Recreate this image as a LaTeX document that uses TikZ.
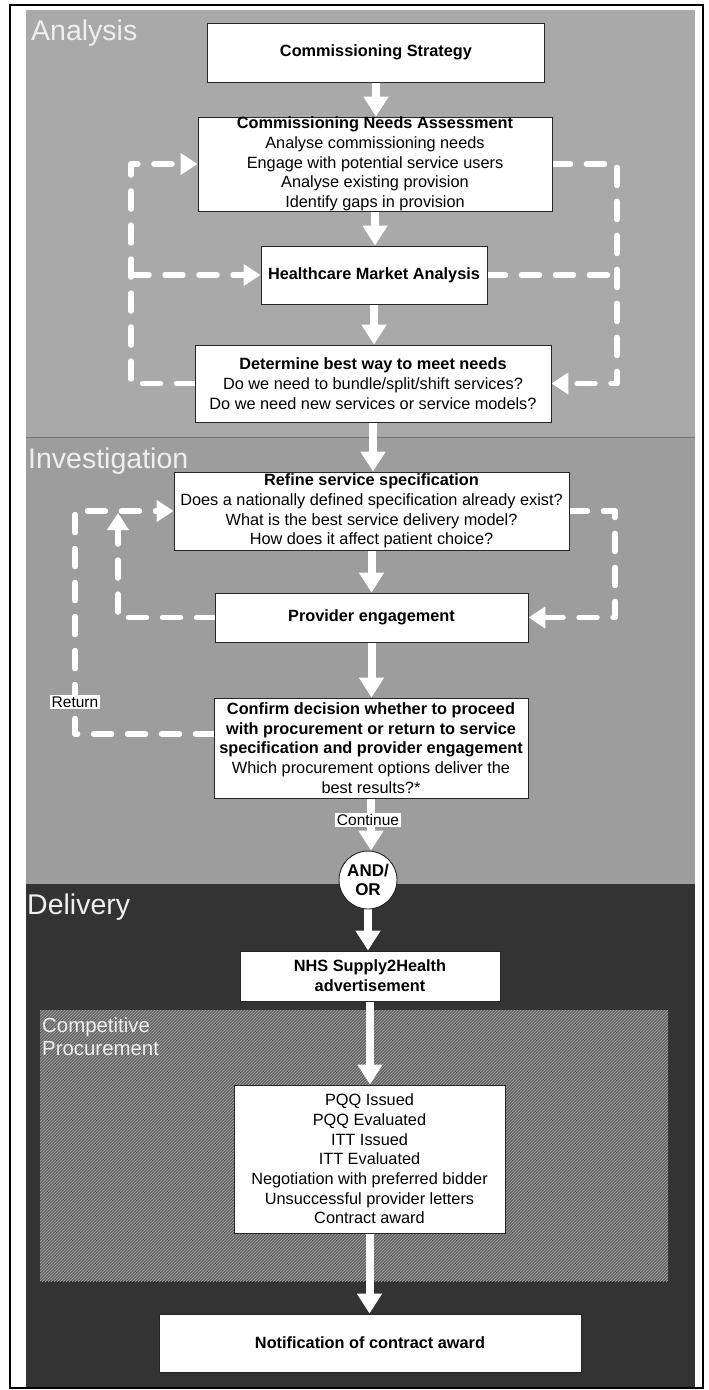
\documentclass[tikz,border=0pt]{standalone}
\usepackage{fontspec}
\setmainfont{Liberation Sans}
\usetikzlibrary{arrows.meta,patterns}
\pgfdeclarelayer{bg}
\pgfdeclarelayer{mid}
\pgfsetlayers{bg,mid,main}
\definecolor{anal}{HTML}{A9A9A9}
\definecolor{inv}{HTML}{9D9D9D}
\definecolor{del}{HTML}{333333}
\definecolor{cpf}{HTML}{656565}
\definecolor{cpl}{HTML}{A4A4A4}
\definecolor{lbl}{HTML}{EFEFEF}
\newcommand{\dgbody}{\fontsize{16.3}{19.7}\selectfont}
\begin{document}
\begin{tikzpicture}[x=1pt,y=-1pt,
  box/.style={draw=black!85, line width=0.9pt, fill=white, inner sep=0pt, align=center, font=\dgbody, text=black},
  flow/.style={draw=white, line width=8pt, -{Triangle[length=20pt,width=24pt]}},
  loopline/.style={draw=white, line width=5.5pt, dash pattern=on 18pt off 16pt, line cap=round, line join=round},
  looparrow/.style={loopline, -{Triangle[length=17pt,width=21pt]}},
  panellabel/.style={anchor=base west, inner sep=0pt, text=lbl, font=\fontsize{28.5}{30}\selectfont},
  tag/.style={fill=white, inner sep=1.5pt, text=black, font=\fontsize{15.5}{17}\selectfont}
]
\path[use as bounding box] (0,0) rectangle (709,1390);

% boxes
\node[box, minimum width=337pt, minimum height=59pt] (cs) at (376,52.5) {\textbf{Commissioning Strategy}};
\node[box, minimum width=354pt, minimum height=94pt] (cna) at (375,164) {\textbf{Commissioning Needs Assessment}\\Analyse commissioning needs\\Engage with potential service users\\Analyse existing provision\\Identify gaps in provision};
\node[box, minimum width=226pt, minimum height=58pt] (hma) at (374,275) {\textbf{Healthcare Market Analysis}};
\node[box, minimum width=356pt, minimum height=77pt] (dbw) at (373,383.5) {\textbf{Determine best way to meet needs}\\Do we need to bundle/split/shift services?\\Do we need new services or service models?};
\node[box, minimum width=395pt, minimum height=78pt] (rss) at (371.5,511) {\textbf{Refine service specification}\\Does a nationally defined specification already exist?\\What is the best service delivery model?\\How does it affect patient choice?};
\node[box, minimum width=313pt, minimum height=49pt] (pe) at (371.5,617.5) {\textbf{Provider engagement}};
\node[box, minimum width=314pt, minimum height=100pt] (conf) at (371,748) {\textbf{Confirm decision whether to proceed}\\\textbf{with procurement or return to service}\\\textbf{specification and provider engagement}\\Which procurement options deliver the\\best results?*};
\node[box, circle, minimum size=58pt, font=\fontsize{17}{19}\selectfont\bfseries] (andor) at (368,880) {AND/\\OR};
\node[box, minimum width=260pt, minimum height=50pt] (nhs) at (370,976) {\textbf{NHS Supply2Health}\\\textbf{advertisement}};
\node[box, minimum width=271pt, minimum height=148pt] (pqq) at (369.5,1159) {PQQ Issued\\PQQ Evaluated\\ITT Issued\\ITT Evaluated\\Negotiation with preferred bidder\\Unsuccessful provider letters\\Contract award};
\node[box, minimum width=422pt, minimum height=58pt] (note) at (370,1343) {\textbf{Notification of contract award}};

% labels on connectors
\node[tag] (cont) at (368,820) {Continue};
\node[tag] (ret) at (75,702) {Return};

% loop coordinates
\coordinate (aL) at (131,0);
\coordinate (aR) at (617,0);
\coordinate (iL) at (75,0);
\coordinate (iM) at (118,0);
\coordinate (iR) at (615,0);
\coordinate (iMt) at (118,513);
\coordinate (cw) at ([yshift=14pt]conf.west);

\begin{pgfonlayer}{bg}
\fill[anal] (26,10) rectangle (695,437);
\fill[inv] (26,437) rectangle (695,884);
\fill[del] (26,884) rectangle (695,1388);
\draw[black!55, line width=0.8pt] (26,437) -- (695,437);
\fill[cpf] (40,1010) rectangle (668,1281);
\fill[pattern=north east lines, pattern color=cpl] (40,1010) rectangle (668,1281);
\draw[black, line width=1.2pt] (10,5) rectangle (703,1388);
\node[panellabel] (lanal) at (31,40) {Analysis};
\node[panellabel] (linv) at (28,468) {Investigation};
\node[panellabel] (ldel) at (27,914) {Delivery};
\node[anchor=base west, inner sep=0pt, text=lbl, align=left, font=\fontsize{20.4}{23}\selectfont] (lcp) at (42,1055) {Competitive\\Procurement};
\end{pgfonlayer}

\begin{pgfonlayer}{mid}
% main flow
\draw[flow] (cs.south) -- (cs.south |- cna.north);
\draw[flow] (cna.south) -- (cna.south |- hma.north);
\draw[flow] (hma.south) -- (hma.south |- dbw.north);
\draw[flow] (dbw.south) -- (dbw.south |- rss.north);
\draw[flow] (rss.south) -- (rss.south |- pe.north);
\draw[flow] (pe.south) -- (pe.south |- conf.north);
\draw[flow] (conf.south) -- (conf.south |- andor.north);
\draw[flow] (andor.south) -- (andor.south |- nhs.north);
\draw[flow] (nhs.south) -- (nhs.south |- pqq.north);
\draw[flow] (pqq.south) -- (pqq.south |- note.north);

% analysis loops
\draw[looparrow] (dbw.west) -- (dbw.west -| aL) -- (cna.west -| aL) -- (cna.west);
\draw[looparrow] (hma.west -| aL) -- (hma.west);
\draw[looparrow] (cna.east) -- (cna.east -| aR) -- (dbw.east -| aR) -- (dbw.east);
\draw[loopline] (hma.east) -- (hma.east -| aR);

% investigation loops
\draw[looparrow] (cw) -- (cw -| iL) -- (rss.west -| iL) -- (rss.west);
\draw[looparrow] (pe.west) -- (pe.west -| iM) -- (iMt);
\draw[looparrow] (rss.east) -- (rss.east -| iR) -- (pe.east -| iR) -- (pe.east);
\end{pgfonlayer}
\end{tikzpicture}
\end{document}
